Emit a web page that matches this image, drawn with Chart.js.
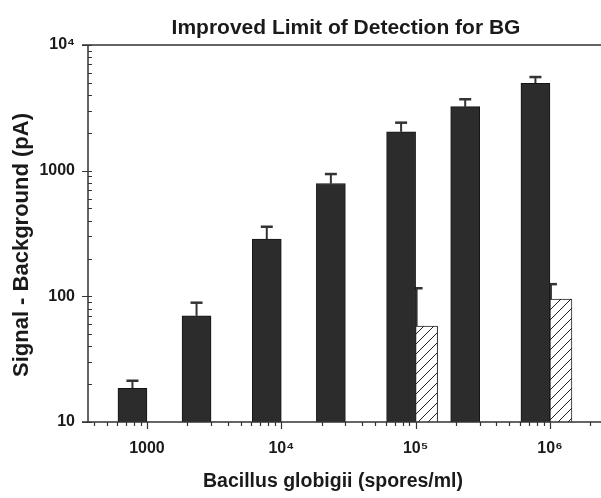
<!DOCTYPE html>
<html>
<head>
<meta charset="utf-8">
<title>Improved Limit of Detection for BG</title>
<script src="https://cdn.jsdelivr.net/npm/chart.js@4.4.1/dist/chart.umd.min.js"></script>
<style>
  html, body { margin: 0; padding: 0; background: #ffffff; }
  canvas { display: block; }
</style>
</head>
<body>
<canvas id="bgChart" width="601" height="498"></canvas>
<script>
/**
 * Signal - Background vs. Bacillus globigii concentration (log / log).
 */

// Spore concentrations (spores/ml) and the measured signal, with + error
const CONCENTRATION_LIST = [1000, 3000, 10000, 30000, 100000, 300000, 1000000];
const SIGNAL_LIST = [18.5, 70, 285, 790, 2040, 3230, 4950];
const SIGNAL_ERROR_LIST = [2.8, 19, 73, 150, 370, 470, 610];

// Hatched (control) bars
const CONTROL_CONCENTRATION_LIST = [100000, 1000000];
const CONTROL_SIGNAL_LIST = [58, 95];
const CONTROL_ERROR_LIST = [58, 30];

// Tick labels
const X_TICK_VALUES = [1000, 10000, 100000, 1000000];
const X_TICK_LABELS = ["1000", "10\u2074", "10\u2075", "10\u2076"];
const Y_TICK_VALUES = [10, 100, 1000, 10000];
const Y_TICK_LABELS = ["10", "100", "1000", "10\u2074"];

const CHART_TITLE = "Improved Limit of Detection for BG";
const X_TITLE = "Bacillus globigii (spores/ml)";
const Y_TITLE = "Signal - Background (pA)";

const AXIS_COLOR = "#333333";
const FONT_FAMILY = "'Liberation Sans', Arial, Helvetica, sans-serif";

/**
 * Build the diagonal hatch used for the control bars.
 */
function makeHatchPattern() {
  const TILE = document.createElement("canvas");
  TILE.width = 10;
  TILE.height = 10;
  const TCTX = TILE.getContext("2d");
  TCTX.fillStyle = "#ffffff";
  TCTX.fillRect(0, 0, 10, 10);
  TCTX.strokeStyle = "#222222";
  TCTX.lineWidth = 1;
  TCTX.beginPath();
  TCTX.moveTo(-1, 11);
  TCTX.lineTo(11, -1);
  TCTX.moveTo(-1, 1);
  TCTX.lineTo(1, -1);
  TCTX.moveTo(9, 11);
  TCTX.lineTo(11, 9);
  TCTX.stroke();
  return TCTX.createPattern(TILE, "repeat");
}

function tickSignificand(value) {
  const exp = Math.floor(Math.log10(value) + 1e-9);
  return value / Math.pow(10, exp);
}

function isWholeSignificand(value) {
  const sig = tickSignificand(value);
  return Math.abs(sig - Math.round(sig)) < 1e-6;
}

/**
 * Error bars (upper only). Drawn before the bars, so the dark bars hide
 * the left half of the control caps as in the original figure.
 */
const errorBarPlugin = {
  id: "errorBars",
  beforeDatasetsDraw(chart) {
    const ctx = chart.ctx;
    const yScale = chart.scales.y;
    ctx.save();
    ctx.strokeStyle = AXIS_COLOR;
    ctx.lineCap = "butt";

    chart.data.datasets.forEach((dataset, dsIndex) => {
      const meta = chart.getDatasetMeta(dsIndex);
      meta.data.forEach((bar, i) => {
        const value = dataset.data[i].y;
        const top = yScale.getPixelForValue(value + dataset.errors[i]);
        const x = dataset.errorAtEdge ? bar.x - bar.width / 2 + 1 : bar.x;

        ctx.lineWidth = 2;
        ctx.beginPath();
        ctx.moveTo(x, bar.y);
        ctx.lineTo(x, top);
        ctx.stroke();

        ctx.lineWidth = 2.5;
        ctx.beginPath();
        ctx.moveTo(x - 6, top);
        ctx.lineTo(x + 6, top);
        ctx.stroke();
      });
    });
    ctx.restore();
  }
};

/**
 * Axis lines, log tick marks and the titles.
 */
const framePlugin = {
  id: "frame",
  afterDraw(chart) {
    const ctx = chart.ctx;
    const AREA = chart.chartArea;
    const xScale = chart.scales.x;
    const yScale = chart.scales.y;

    ctx.save();
    ctx.strokeStyle = AXIS_COLOR;
    ctx.lineWidth = 1.5;

    // Frame: left, bottom and top lines
    ctx.beginPath();
    ctx.moveTo(AREA.left, AREA.top);
    ctx.lineTo(AREA.left, AREA.bottom);
    ctx.moveTo(AREA.left - 6, AREA.bottom);
    ctx.lineTo(AREA.right, AREA.bottom);
    ctx.moveTo(AREA.left - 6, AREA.top);
    ctx.lineTo(AREA.right, AREA.top);
    ctx.stroke();

    // Y ticks: majors outside, minors inside
    ctx.lineWidth = 1.2;
    ctx.beginPath();
    yScale.ticks.forEach((tick) => {
      if (!isWholeSignificand(tick.value)) {
        return;
      }
      const y = Math.round(yScale.getPixelForValue(tick.value)) + 0.5;
      if (Math.round(tickSignificand(tick.value)) === 1) {
        ctx.moveTo(AREA.left - 6, y);
        ctx.lineTo(AREA.left + 4, y);
      } else {
        ctx.moveTo(AREA.left, y);
        ctx.lineTo(AREA.left + 4, y);
      }
    });

    // X ticks: all below the axis, majors longer
    xScale.ticks.forEach((tick) => {
      if (!isWholeSignificand(tick.value)) {
        return;
      }
      const x = Math.round(xScale.getPixelForValue(tick.value)) + 0.5;
      if (x < AREA.left + 1 || x > AREA.right) {
        return;
      }
      const len = Math.round(tickSignificand(tick.value)) === 1 ? 7 : 4;
      ctx.moveTo(x, AREA.bottom);
      ctx.lineTo(x, AREA.bottom + len);
    });
    ctx.stroke();

    // Titles
    ctx.fillStyle = "#1a1a1a";
    ctx.textAlign = "center";
    ctx.textBaseline = "alphabetic";

    ctx.font = "bold 21px " + FONT_FAMILY;
    ctx.fillText(CHART_TITLE, 346, 34);

    ctx.font = "bold 19.5px " + FONT_FAMILY;
    ctx.fillText(X_TITLE, 333, 487);

    ctx.font = "bold 22px " + FONT_FAMILY;
    ctx.translate(28, 245);
    ctx.rotate(-Math.PI / 2);
    ctx.fillText(Y_TITLE, 0, 0);
    ctx.restore();
  }
};

const SIGNAL_POINTS = CONCENTRATION_LIST.map((conc, i) => ({ x: conc, y: SIGNAL_LIST[i] }));
const CONTROL_POINTS = CONTROL_CONCENTRATION_LIST.map((conc, i) => ({ x: conc, y: CONTROL_SIGNAL_LIST[i] }));

const CTX = document.getElementById("bgChart").getContext("2d");

new Chart(CTX, {
  type: "bar",
  data: {
    datasets: [{
      label: "BG",
      data: SIGNAL_POINTS,
      errors: SIGNAL_ERROR_LIST,
      errorAtEdge: false,
      backgroundColor: "#2c2c2c",
      borderColor: "#151515",
      borderWidth: 1,
      barThickness: 29
    }, {
      label: "Control",
      data: CONTROL_POINTS,
      errors: CONTROL_ERROR_LIST,
      errorAtEdge: true,
      backgroundColor: makeHatchPattern(),
      borderColor: "#222222",
      borderWidth: 1,
      barThickness: 22
    }]
  },
  options: {
    responsive: false,
    animation: false,
    layout: {
      padding: { top: 45, right: 0, bottom: 0, left: 0 }
    },
    plugins: {
      legend: { display: false },
      title: { display: false },
      tooltip: { enabled: false }
    },
    scales: {
      x: {
        type: "logarithmic",
        min: 364,
        max: 2400000,
        offset: false,
        grid: { display: false, drawTicks: false },
        border: { display: false },
        ticks: {
          autoSkip: false,
          maxRotation: 0,
          padding: 17,
          color: "#1a1a1a",
          font: { family: FONT_FAMILY, size: 16, weight: "bold" },
          callback: (value) => {
            const idx = X_TICK_VALUES.indexOf(value);
            return idx >= 0 ? X_TICK_LABELS[idx] : "";
          }
        },
        afterFit: (scale) => {
          scale.height = 76;
          scale.paddingLeft = 0;
          scale.paddingRight = 0;
        }
      },
      y: {
        type: "logarithmic",
        min: 10,
        max: 10000,
        grid: { display: false, drawTicks: false },
        border: { display: false },
        ticks: {
          autoSkip: false,
          padding: 13,
          color: "#1a1a1a",
          font: { family: FONT_FAMILY, size: 16, weight: "bold" },
          callback: (value) => {
            const idx = Y_TICK_VALUES.indexOf(value);
            return idx >= 0 ? Y_TICK_LABELS[idx] : "";
          }
        },
        afterFit: (scale) => {
          scale.width = 88;
        }
      }
    }
  },
  plugins: [errorBarPlugin, framePlugin]
});
</script>
</body>
</html>
